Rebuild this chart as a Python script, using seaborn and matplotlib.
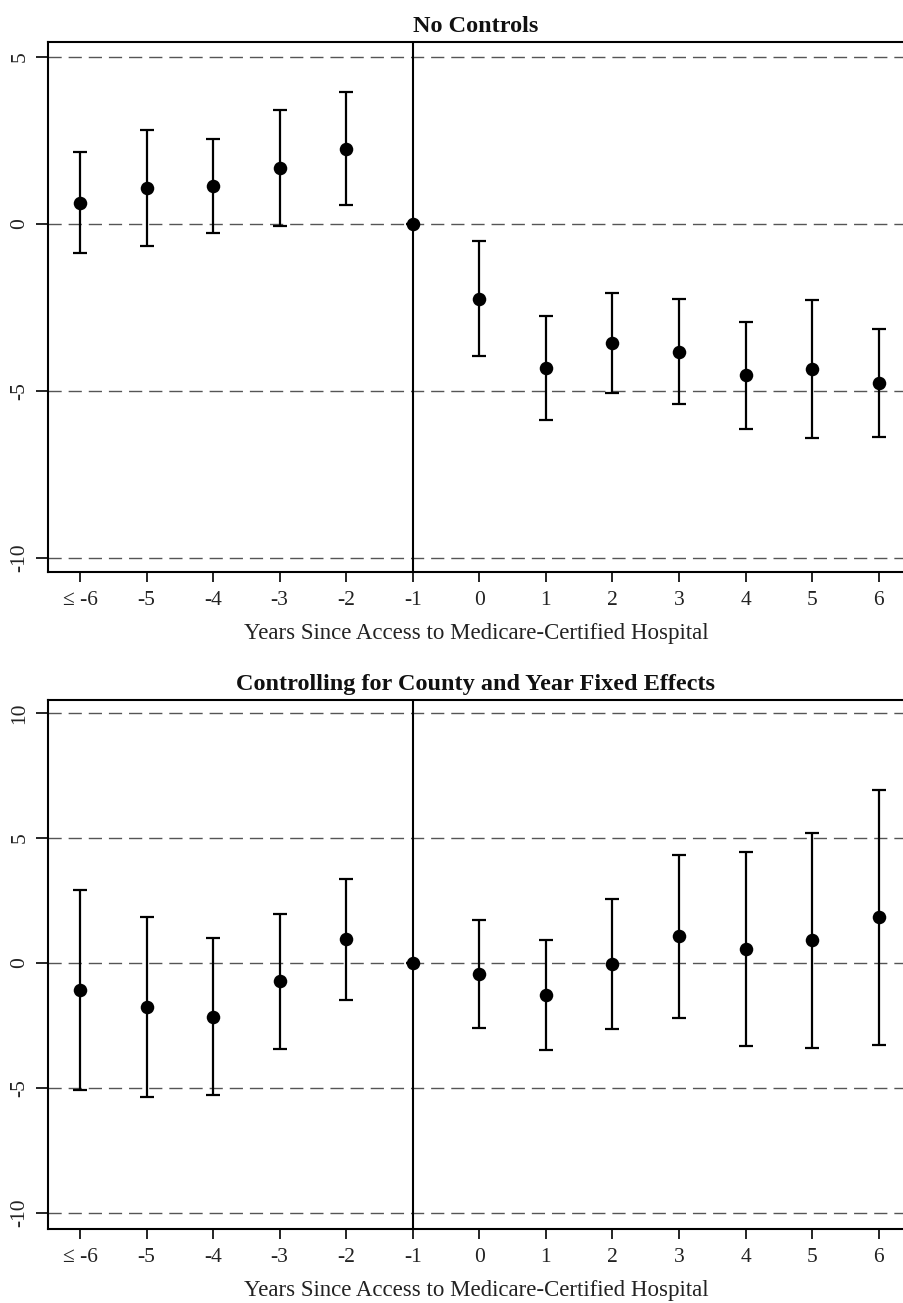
import numpy as np
import pandas as pd
import matplotlib
matplotlib.use("Agg")
import matplotlib.pyplot as plt
import seaborn as sns

# ---- data ----
years = [-6, -5, -4, -3, -2, -1, 0, 1, 2, 3, 4, 5, 6]
x_labels = ["\u2264 -6", "-5", "-4", "-3", "-2", "-1", "0", "1", "2", "3", "4", "5", "6"]

nc_est = [0.64, 1.08, 1.14, 1.68, 2.25, 0.0, -2.25, -4.32, -3.56, -3.83, -4.53, -4.35, -4.76]
nc_hi = [2.16, 2.81, 2.55, 3.41, 3.95, 0.0, -0.51, -2.75, -2.07, -2.25, -2.94, -2.28, -3.15]
nc_lo = [-0.87, -0.66, -0.27, -0.07, 0.56, 0.0, -3.95, -5.88, -5.05, -5.39, -6.14, -6.41, -6.38]

fe_est = [-1.08, -1.76, -2.16, -0.73, 0.96, 0.0, -0.43, -1.28, -0.03, 1.07, 0.57, 0.91, 1.84]
fe_hi = [2.93, 1.84, 0.99, 1.97, 3.37, 0.0, 1.74, 0.91, 2.58, 4.34, 4.43, 5.21, 6.93]
fe_lo = [-5.09, -5.34, -5.28, -3.43, -1.46, 0.0, -2.58, -3.46, -2.65, -2.21, -3.30, -3.41, -3.27]

top_yticks = [-10, -5, 0, 5]
bot_yticks = [-10, -5, 0, 5, 10]

panel_titles = ["No Controls", "Controlling for County and Year Fixed Effects"]
xlabel = "Years Since Access to Medicare-Certified Hospital"

# ---- style ----
sns.set_theme(style="white")
plt.rcParams["font.family"] = ["Liberation Serif", "DejaVu Serif"]

fig = plt.figure(figsize=(9.04, 13.03), dpi=100)
W, H = 904, 1303

def px_axes(left, top, right, bottom):
    return fig.add_axes([left / W, 1 - bottom / H, (right - left) / W, (bottom - top) / H])

ax1 = px_axes(48, 42, 904, 572)
ax2 = px_axes(48, 700, 904, 1229)

def draw(ax, est, lo, hi, yticks, ylim, title):
    df = pd.DataFrame({"year": years, "est": est, "lo": lo, "hi": hi})
    for yv in yticks:
        ax.axhline(yv, color="#555555", lw=1.0, dashes=(9.5, 5), zorder=1)
    ax.axvline(-1, color="black", lw=1.5, zorder=2)
    err = np.vstack([df["est"] - df["lo"], df["hi"] - df["est"]])
    ax.errorbar(df["year"], df["est"], yerr=err, fmt="none", ecolor="black",
                elinewidth=1.6, capsize=4.8, capthick=1.6, zorder=3)
    sns.scatterplot(data=df, x="year", y="est", ax=ax, color="black", s=95,
                    edgecolor="black", linewidth=0, zorder=4, legend=False)
    ax.set_xlim(-6.48, 6.38)
    ax.set_ylim(*ylim)
    ax.set_xticks(years)
    ax.set_xticklabels(x_labels, fontsize=15.5, color="#222222")
    ax.set_yticks(yticks)
    ax.set_yticklabels([str(v) for v in yticks], rotation=90, va="center", fontsize=15.5,
                       color="#222222")
    ax.tick_params(axis="x", direction="out", length=7, width=1.2, color="black", pad=7, bottom=True)
    ax.tick_params(axis="y", direction="out", length=9, width=1.2, color="black", pad=4.5, left=True)
    for s in ["left", "bottom", "top"]:
        ax.spines[s].set_visible(True)
        ax.spines[s].set_color("black")
        ax.spines[s].set_linewidth(1.5)
    ax.spines["right"].set_visible(False)
    ax.set_xlabel(xlabel, fontsize=16.5, labelpad=9, color="#222222")
    ax.set_ylabel("")
    ax.set_title(title, fontsize=17.5, fontweight="bold", pad=7, color="#111111")
    ax.grid(False)

draw(ax1, nc_est, nc_lo, nc_hi, top_yticks, (-10.42, 5.45), panel_titles[0])
draw(ax2, fe_est, fe_lo, fe_hi, bot_yticks, (-10.64, 10.52), panel_titles[1])

fig.savefig("out.png", dpi=100, facecolor="white")
